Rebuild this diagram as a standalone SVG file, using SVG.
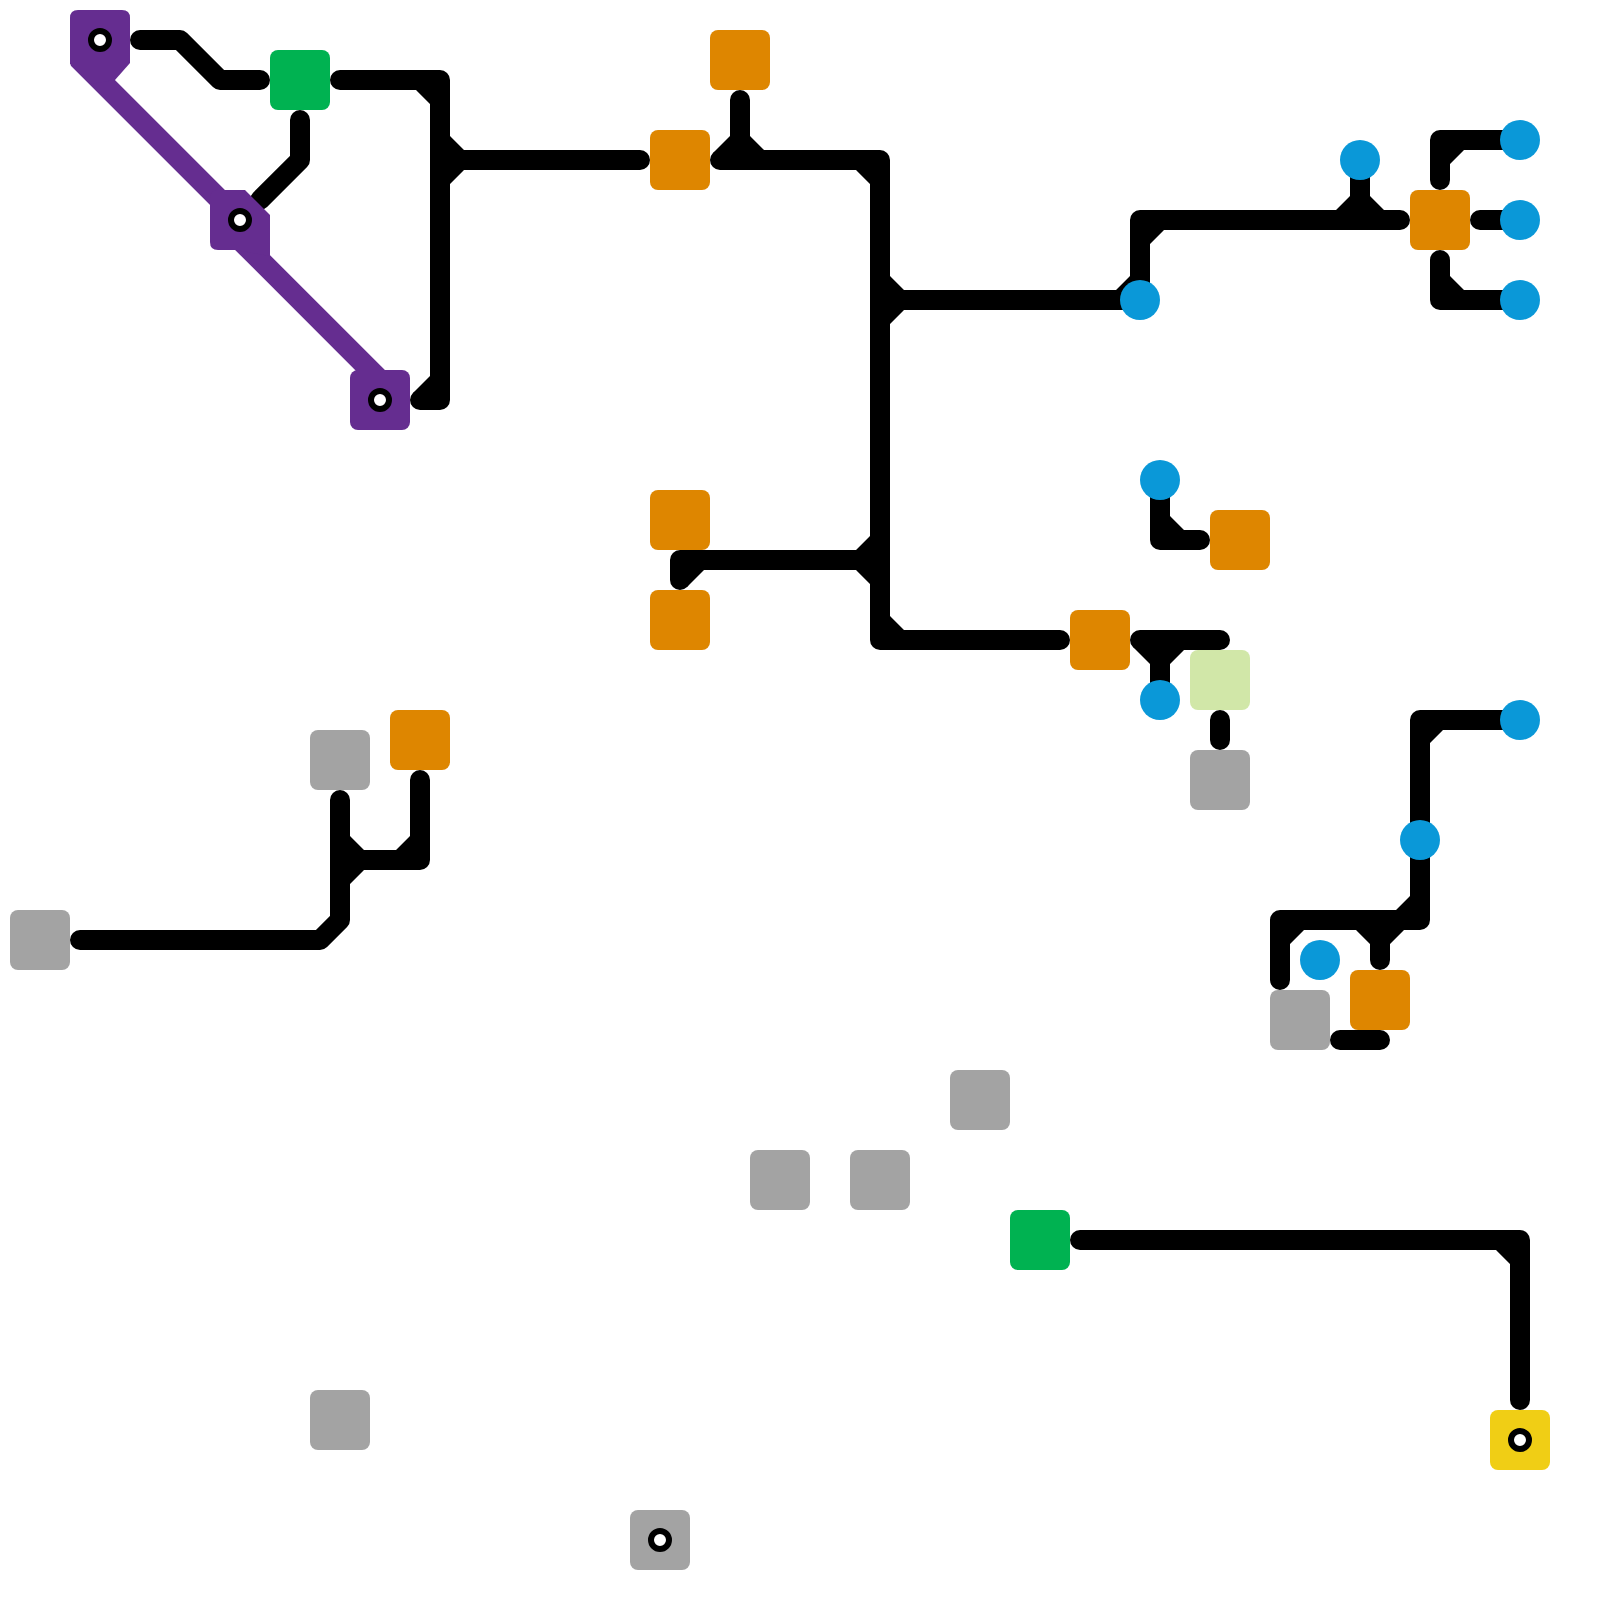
<svg xmlns="http://www.w3.org/2000/svg" width="1600" height="1600" viewBox="0 0 1600 1600">
<style>
.l{fill:none;stroke:#000;stroke-width:20;stroke-linecap:round;stroke-linejoin:round}
.c{fill:#000}
.o{fill:#de8600}.g{fill:#a3a3a3}.e{fill:#00b251}.p{fill:#652d90}.b{fill:#0a98d8}.h{fill:#d1e7a8}.y{fill:#f0ce15}
.m{fill:#fff;stroke:#000;stroke-width:6}
.d{fill:none;stroke:#652d90;stroke-width:21;stroke-linecap:butt}
</style>
<rect width="1600" height="1600" fill="#fff"/>
<g id="connectors">
<path class="l" d="M140 40H180L220 80H260"/>
<path class="l" d="M340 80H440V400H420M440 160H640"/>
<path class="l" d="M300 120V160L260 200"/>
<path class="l" d="M720 160H880V640H1060M740 100V160M880 300H1140V220H1400M1360 160V220M880 560H680V580"/>
<path class="l" d="M1440 180V140H1520M1480 220H1520M1440 260V300H1520"/>
<path class="l" d="M1140 640H1220M1160 640V700M1220 720V740"/>
<path class="l" d="M1160 480V540H1200"/>
<path class="l" d="M80 940H320L340 920V800M340 860H420V780"/>
<path class="l" d="M1520 720H1420V920H1280V980M1380 920V960M1340 1040H1380"/>
<path class="l" d="M1080 1240H1520V1400"/>
<path class="c" d="M416 90H430V104ZM430 376V400L413 393ZM450 136V150H464ZM450 184V170H464ZM730 136V160L713 153ZM750 136V150H764ZM856 170H870V184ZM890 276V290H904ZM890 324V310H904ZM870 536V550H856ZM870 584V570H856ZM890 616V630H904ZM1130 276V290H1116ZM1164 230H1150V244ZM1350 196V210H1336ZM1370 196V210H1384ZM1464 150H1450V164ZM1450 276V290H1464ZM704 570H680V580L687 587ZM1150 664V640L1133 647ZM1170 664V650H1184ZM1170 516V530H1184ZM1443 730H1430V743ZM1410 896V910H1396ZM1304 930H1290V944ZM1370 944V930H1356ZM1390 944V930H1404ZM1496 1250H1510V1264ZM350 836V850H364ZM350 884V870H364ZM410 836V850H396Z"/>
<path class="d" d="M78 58L240 220M240 240L380 380"/>
</g>
<g id="n1"><path class="p" d="M78 10H122Q130 10 130 18V63L115 80L90 84L70 64V18Q70 10 78 10Z"/><circle class="m" cx="100" cy="40" r="9"/></g>
<g id="n2"><path class="p" d="M218 190H245L270 215V256L236 250H218Q210 250 210 242V198Q210 190 218 190Z"/><circle class="m" cx="240" cy="220" r="9"/></g>
<g id="n3"><rect class="p" x="350" y="370" width="60" height="60" rx="8"/><circle class="m" cx="380" cy="400" r="9"/></g>
<g id="n4"><rect class="e" x="270" y="50" width="60" height="60" rx="8"/></g>
<g id="n5"><rect class="o" x="650" y="130" width="60" height="60" rx="8"/></g>
<g id="n6"><rect class="o" x="710" y="30" width="60" height="60" rx="8"/></g>
<g id="n7"><rect class="o" x="1410" y="190" width="60" height="60" rx="8"/></g>
<g id="n8"><rect class="o" x="650" y="490" width="60" height="60" rx="8"/></g>
<g id="n9"><rect class="o" x="650" y="590" width="60" height="60" rx="8"/></g>
<g id="n10"><rect class="o" x="1210" y="510" width="60" height="60" rx="8"/></g>
<g id="n11"><rect class="o" x="1070" y="610" width="60" height="60" rx="8"/></g>
<g id="n12"><rect class="o" x="390" y="710" width="60" height="60" rx="8"/></g>
<g id="n13"><rect class="o" x="1350" y="970" width="60" height="60" rx="8"/></g>
<g id="n14"><rect class="h" x="1190" y="650" width="60" height="60" rx="8"/></g>
<g id="n15"><rect class="g" x="1190" y="750" width="60" height="60" rx="8"/></g>
<g id="n16"><rect class="g" x="310" y="730" width="60" height="60" rx="8"/></g>
<g id="n17"><rect class="g" x="10" y="910" width="60" height="60" rx="8"/></g>
<g id="n18"><rect class="g" x="1270" y="990" width="60" height="60" rx="8"/></g>
<g id="n19"><rect class="g" x="950" y="1070" width="60" height="60" rx="8"/></g>
<g id="n20"><rect class="g" x="750" y="1150" width="60" height="60" rx="8"/></g>
<g id="n21"><rect class="g" x="850" y="1150" width="60" height="60" rx="8"/></g>
<g id="n22"><rect class="g" x="310" y="1390" width="60" height="60" rx="8"/></g>
<g id="n23"><rect class="g" x="630" y="1510" width="60" height="60" rx="8"/><circle class="m" cx="660" cy="1540" r="9"/></g>
<g id="n24"><rect class="e" x="1010" y="1210" width="60" height="60" rx="8"/></g>
<g id="n25"><rect class="y" x="1490" y="1410" width="60" height="60" rx="8"/><circle class="m" cx="1520" cy="1440" r="9"/></g>
<g id="n26"><circle class="b" cx="1140" cy="300" r="20"/></g>
<g id="n27"><circle class="b" cx="1360" cy="160" r="20"/></g>
<g id="n28"><circle class="b" cx="1520" cy="140" r="20"/></g>
<g id="n29"><circle class="b" cx="1520" cy="220" r="20"/></g>
<g id="n30"><circle class="b" cx="1520" cy="300" r="20"/></g>
<g id="n31"><circle class="b" cx="1160" cy="480" r="20"/></g>
<g id="n32"><circle class="b" cx="1160" cy="700" r="20"/></g>
<g id="n33"><circle class="b" cx="1520" cy="720" r="20"/></g>
<g id="n34"><circle class="b" cx="1420" cy="840" r="20"/></g>
<g id="n35"><circle class="b" cx="1320" cy="960" r="20"/></g>
</svg>
